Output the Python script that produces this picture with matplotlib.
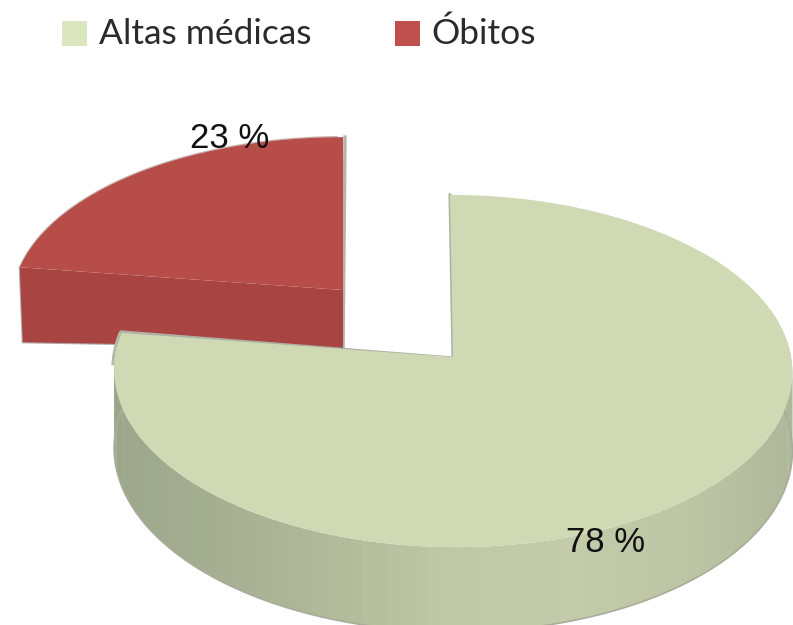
import numpy as np
import matplotlib.pyplot as plt
from matplotlib.colors import to_rgb

categorias = ['Altas médicas', 'Óbitos']
valores = [78, 23]
rotulos = ['78 %', '23 %']

W, H = 793, 625
K = 0.0795  # perspectiva do disco


def projeta(theta, cx, cy, rx, ry, inclina=0):
    s, c = np.sin(theta), -np.cos(theta)
    d = 1 - K * c
    return cx + rx * s / d + inclina * c, cy + ry * c / d


def cor_parede(x_rel):
    pos = [-1, -0.6, -0.3, 0, 0.35, 0.7, 1]
    cores = np.array([to_rgb(c) for c in ['#9ca68a', '#a9b294', '#b3bc9b', '#c0c8a7',
                                          '#c3cba9', '#bcc5a4', '#aeb799']])
    return [np.interp(x_rel, pos, cores[:, i]) for i in range(3)]


fig = plt.figure(figsize=(W / 100, H / 100), dpi=100)
ax = fig.add_axes([0, 0, 1, 1])
ax.set_xlim(0, W)
ax.set_ylim(H, 0)
ax.axis('off')

corte = 2 * np.pi * valores[0] / sum(valores)

# fatia vermelha, deslocada
cx, cy, rx, ry = 343, 290, 330, 165
t = np.linspace(corte, 2 * np.pi, 80)
xr, yr = projeta(t, cx, cy, rx, ry)
xe, ye = xr[0], yr[0]
ax.fill([xe, xe + 3, cx, cx], [ye, ye + 75, cy + 58, cy], color='#a84543', lw=0, zorder=2)
ax.plot([xe, xe + 3, cx], [ye, ye + 75, cy + 58], color='#b0a8a6', lw=1.6, zorder=1.5)
ax.fill(np.r_[cx, xr], np.r_[cy, yr], color='#b64d49', lw=0, zorder=3)
ax.plot(xr[:-1], yr[:-1] - 0.5, color='#c9b7b3', lw=1, zorder=2.5)
ax.plot([cx + 2, cx], [yr[-1], cy + 58], color='#b5b5ae', lw=2.5, zorder=1.5)

# fatia verde
cx, cy, rx, ry = 453, 357, 338, 175
inc = 3
prof = 78
t = np.linspace(0, corte, 300)
xg, yg = projeta(t, cx, cy, rx, ry, inc)
faixas = np.linspace(0.9, corte, 110)
for a, b in zip(faixas[:-1], faixas[1:]):
    tt = np.linspace(a, b + 0.005, 4)
    xa, ya = projeta(tt, cx, cy, rx, ry, inc)
    dz = prof / (1 + K * np.cos(tt))
    ax.fill(np.r_[xa, xa[::-1]], np.r_[ya, (ya + dz)[::-1]],
            color=cor_parede((xa.mean() - cx) / rx), lw=0, zorder=4)
tb = np.linspace(1.2, corte, 200)
xb, yb = projeta(tb, cx, cy, rx, ry, inc)
ax.plot(xb, yb + prof / (1 + K * np.cos(tb)), color='#a9ac9b', lw=1.2, zorder=4.2)
ax.plot(xg[288:] - 1.5, yg[288:], color='#b5b7aa', lw=2, zorder=4.4)
ax.fill(np.r_[cx, xg], np.r_[cy, yg], color='#cfd9b3', lw=0, zorder=5)
ax.plot([xg[-1], cx, xg[0]], [yg[-1] - 1, cy + 1, yg[0]], color='#aeb1a3', lw=2.2, zorder=4.5)

# rotulos
ax.text(606, 542, rotulos[0], family='Liberation Sans', fontsize=25, color='#111111',
        ha='center', va='center', zorder=7)
ax.text(230, 138, rotulos[1], family='Liberation Sans', fontsize=25, color='#111111',
        ha='center', va='center', zorder=7)

# legenda
for x0, cor, nome, xt in zip([62, 395], ['#dbe5bf', '#c0504d'], categorias, [99, 431]):
    ax.fill([x0, x0 + 25, x0 + 25, x0], [21, 21, 46, 46], color=cor, lw=0, zorder=7)
    ax.text(xt, 34, nome, family='Lato', fontsize=25.5, color='#2b2b2b', ha='left',
            va='center', zorder=7)

fig.savefig('out.png', dpi=100)
plt.close()
